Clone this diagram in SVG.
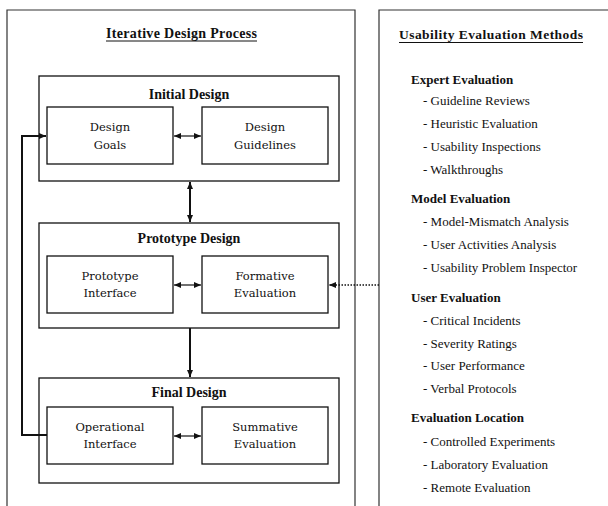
<svg xmlns="http://www.w3.org/2000/svg" width="608" height="506" viewBox="0 0 608 506">
<style>
.frame{fill:none;stroke:#333;stroke-width:1.2}
.box{fill:#fff;stroke:#111;stroke-width:1.3}
.lbl{font-family:"DejaVu Serif","Liberation Serif",serif;font-size:11.5px;fill:#111;text-anchor:middle}
.ttl{font-family:"Liberation Serif",serif;font-size:14px;font-weight:bold;fill:#111;text-anchor:middle}
.hd{font-family:"Liberation Serif",serif;font-size:13px;font-weight:bold;fill:#111}
.it{font-family:"Liberation Serif",serif;font-size:13px;fill:#111}
.thin{fill:none;stroke:#111;stroke-width:1.2}
.thick{fill:none;stroke:#111;stroke-width:2}
.dot{fill:none;stroke:#111;stroke-width:1.5;stroke-dasharray:1.5 1.5}
</style>
<defs>
<marker id="ah" markerUnits="userSpaceOnUse" markerWidth="8" markerHeight="8" refX="7" refY="4" orient="auto-start-reverse">
<path d="M0,1 L7,4 L0,7 Z" fill="#111"/>
</marker>
</defs>
<rect width="608" height="506" fill="#fff"/>
<g id="panel-left">
<path class="frame" d="M7,520 V10 H355 V520"/>
<text class="ttl" x="106" y="38" style="text-anchor:start" textLength="151" lengthAdjust="spacing">Iterative Design Process</text>
<line x1="106" y1="41" x2="257" y2="41" stroke="#111" stroke-width="1"/>
</g>
<g id="panel-right">
<path class="frame" d="M379,520 V10 H620"/>
<text class="hd" x="399" y="39" style="font-size:13.5px" textLength="184" lengthAdjust="spacing">Usability Evaluation Methods</text>
<line x1="399" y1="42.5" x2="583" y2="42.5" stroke="#111" stroke-width="1"/>
<text class="hd" x="411" y="84">Expert Evaluation</text>
<text class="it" x="423" y="105">- Guideline Reviews</text>
<text class="it" x="423" y="128">- Heuristic Evaluation</text>
<text class="it" x="423" y="151">- Usability Inspections</text>
<text class="it" x="423" y="174">- Walkthroughs</text>
<text class="hd" x="411" y="203">Model Evaluation</text>
<text class="it" x="423" y="226">- Model-Mismatch Analysis</text>
<text class="it" x="423" y="249">- User Activities Analysis</text>
<text class="it" x="423" y="272">- Usability Problem Inspector</text>
<text class="hd" x="411" y="302">User Evaluation</text>
<text class="it" x="423" y="325">- Critical Incidents</text>
<text class="it" x="423" y="348">- Severity Ratings</text>
<text class="it" x="423" y="370">- User Performance</text>
<text class="it" x="423" y="393">- Verbal Protocols</text>
<text class="hd" x="411" y="422">Evaluation Location</text>
<text class="it" x="423" y="446">- Controlled Experiments</text>
<text class="it" x="423" y="469">- Laboratory Evaluation</text>
<text class="it" x="423" y="492">- Remote Evaluation</text>
</g>
<g id="initial-design">
<rect class="box" x="39" y="76" width="300" height="105"/>
<text class="ttl" x="189" y="99">Initial Design</text>
</g>
<g id="design-goals">
<rect class="box" x="47" y="107" width="126" height="57"/>
<text class="lbl" x="110" y="131">Design</text>
<text class="lbl" x="110" y="149">Goals</text>
</g>
<g id="design-guidelines">
<rect class="box" x="202" y="107" width="126" height="57"/>
<text class="lbl" x="265" y="131">Design</text>
<text class="lbl" x="265" y="149">Guidelines</text>
</g>
<g id="prototype-design">
<rect class="box" x="39" y="223" width="300" height="105"/>
<text class="ttl" x="189" y="243">Prototype Design</text>
</g>
<g id="prototype-interface">
<rect class="box" x="47" y="256" width="126" height="57"/>
<text class="lbl" x="110" y="280">Prototype</text>
<text class="lbl" x="110" y="297">Interface</text>
</g>
<g id="formative-evaluation">
<rect class="box" x="202" y="256" width="126" height="57"/>
<text class="lbl" x="265" y="280">Formative</text>
<text class="lbl" x="265" y="297">Evaluation</text>
</g>
<g id="final-design">
<rect class="box" x="39" y="378" width="300" height="105"/>
<text class="ttl" x="189" y="397">Final Design</text>
</g>
<g id="operational-interface">
<rect class="box" x="47" y="407" width="126" height="57"/>
<text class="lbl" x="110" y="431">Operational</text>
<text class="lbl" x="110" y="448">Interface</text>
</g>
<g id="summative-evaluation">
<rect class="box" x="202" y="407" width="126" height="57"/>
<text class="lbl" x="265" y="431">Summative</text>
<text class="lbl" x="265" y="448">Evaluation</text>
</g>
<g id="connectors">
<line class="thin" x1="174" y1="136" x2="201" y2="136" marker-start="url(#ah)" marker-end="url(#ah)"/>
<line class="thin" x1="174" y1="285" x2="201" y2="285" marker-start="url(#ah)" marker-end="url(#ah)"/>
<line class="thin" x1="174" y1="436" x2="201" y2="436" marker-start="url(#ah)" marker-end="url(#ah)"/>
<line class="thick" x1="190" y1="182" x2="190" y2="222" marker-start="url(#ah)" marker-end="url(#ah)"/>
<line class="thick" x1="190" y1="328" x2="190" y2="377" marker-end="url(#ah)"/>
<path class="thick" d="M47,435 H22 V136 H46" marker-end="url(#ah)"/>
<line class="dot" x1="379" y1="285" x2="329" y2="285" marker-end="url(#ah)"/>
</g>
</svg>
